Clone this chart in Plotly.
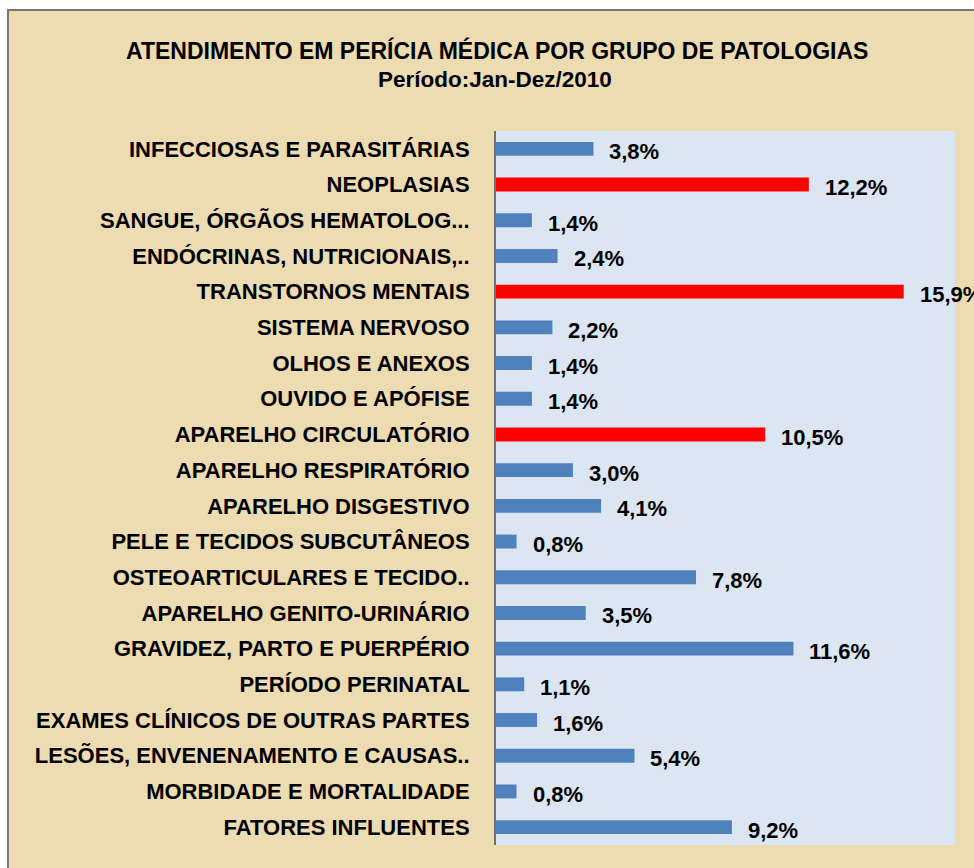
import plotly.graph_objects as go

categories = [
    "INFECCIOSAS E PARASITÁRIAS",
    "NEOPLASIAS",
    "SANGUE, ÓRGÃOS HEMATOLOG...",
    "ENDÓCRINAS, NUTRICIONAIS,..",
    "TRANSTORNOS MENTAIS",
    "SISTEMA NERVOSO",
    "OLHOS E ANEXOS",
    "OUVIDO E APÓFISE",
    "APARELHO CIRCULATÓRIO",
    "APARELHO RESPIRATÓRIO",
    "APARELHO DISGESTIVO",
    "PELE E TECIDOS SUBCUTÂNEOS",
    "OSTEOARTICULARES E TECIDO..",
    "APARELHO GENITO-URINÁRIO",
    "GRAVIDEZ, PARTO E PUERPÉRIO",
    "PERÍODO PERINATAL",
    "EXAMES CLÍNICOS DE OUTRAS PARTES",
    "LESÕES, ENVENENAMENTO E CAUSAS..",
    "MORBIDADE E MORTALIDADE",
    "FATORES INFLUENTES",
]
values = [3.8, 12.2, 1.4, 2.4, 15.9, 2.2, 1.4, 1.4, 10.5, 3.0,
          4.1, 0.8, 7.8, 3.5, 11.6, 1.1, 1.6, 5.4, 0.8, 9.2]
highlighted = ["NEOPLASIAS", "TRANSTORNOS MENTAIS", "APARELHO CIRCULATÓRIO"]

title_text = "ATENDIMENTO EM PERÍCIA MÉDICA POR GRUPO DE PATOLOGIAS"
subtitle_text = "Período:Jan-Dez/2010"

BLUE = "#4f81bd"
RED = "#ff0000"
PARCH = "#eddbb2"
PLOTBG = "#dce6f2"
FONT = "Liberation Sans, Arial, sans-serif"

colors = [RED if c in highlighted else BLUE for c in categories]
labels = [f"{v:.1f}%".replace(".", ",") for v in values]

W, H = 974, 868
# plot area in page pixels
PL, PR, PT, PB = 496, 955, 131, 845
ml, mr, mt, mb = PL, W - PR, PT, H - PB
pw, ph = PR - PL, PB - PT


def px_x(p):
    return (p - PL) / pw


def px_y(p):
    return (PB - p) / ph


fig = go.Figure()
fig.add_trace(go.Bar(
    x=values, y=categories, orientation="h",
    marker=dict(color=colors, line=dict(width=0)),
    width=0.39, hoverinfo="x+y",
))

annotations = []
for c, v, t in zip(categories, values, labels):
    annotations.append(dict(
        x=v, y=c, xref="x", yref="y", text="<b>" + t + "</b>", showarrow=False,
        xanchor="left", yanchor="middle", xshift=14, yshift=-3,
        font=dict(family=FONT, size=22, color="#000000"),
    ))

annotations.append(dict(
    x=px_x(497), y=px_y(51), xref="paper", yref="paper",
    text="<b>" + title_text + "</b>", showarrow=False,
    xanchor="center", yanchor="middle",
    font=dict(family=FONT, size=23, color="#000000"),
))
annotations.append(dict(
    x=px_x(495), y=px_y(79), xref="paper", yref="paper",
    text="<b>" + subtitle_text + "</b>", showarrow=False,
    xanchor="center", yanchor="middle",
    font=dict(family=FONT, size=22.5, color="#000000"),
))

shapes = [
    # parchment panel with grey frame
    dict(type="rect", xref="paper", yref="paper", layer="below",
         x0=px_x(8), x1=px_x(W + 20), y0=px_y(H + 20), y1=px_y(10),
         fillcolor=PARCH, line=dict(color="#7a7a72", width=2)),
    # plot area background
    dict(type="rect", xref="paper", yref="paper", layer="below",
         x0=0, x1=1, y0=0, y1=1, fillcolor=PLOTBG, line=dict(width=0)),
]

fig.update_layout(
    width=W, height=H,
    margin=dict(l=ml, r=mr, t=mt, b=mb, pad=0),
    paper_bgcolor="#ffffff",
    plot_bgcolor="rgba(0,0,0,0)",
    showlegend=False,
    annotations=annotations,
    shapes=shapes,
    font=dict(family=FONT, color="#000000"),
)
fig.update_xaxes(range=[0, 17.9], visible=False, showgrid=False, zeroline=False)
fig.update_yaxes(
    autorange="reversed", showgrid=False, zeroline=False,
    showline=True, linecolor="#707070", linewidth=2,
    ticks="", ticklabelstandoff=20,
    tickfont=dict(family=FONT, size=22, color="#000000", weight="bold"),
)

fig.write_html(
    "out.html",
    config={"displayModeBar": False},
    post_script=(
        "document.documentElement.style.margin='0';"
        "document.documentElement.style.overflow='hidden';"
        "document.body.style.margin='0';"
        "document.body.style.overflow='hidden';"
    ),
)
